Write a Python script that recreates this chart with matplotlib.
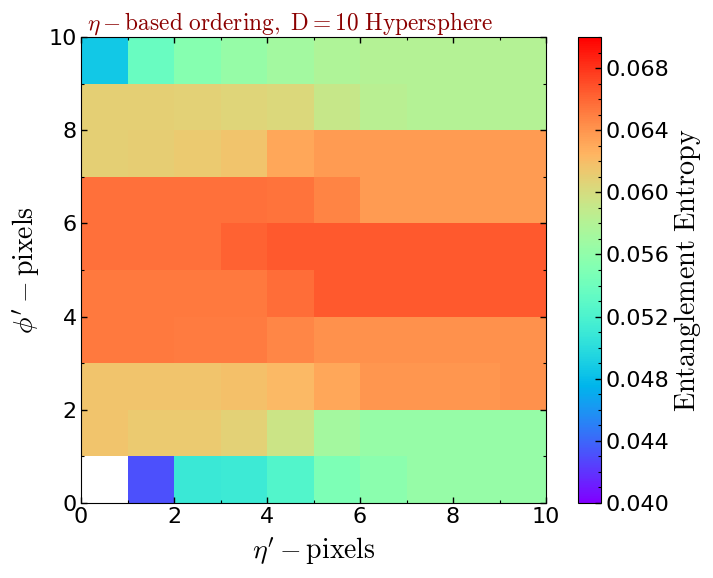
import numpy as np
import matplotlib
matplotlib.use('Agg')
import matplotlib.pyplot as plt

plt.rcParams['mathtext.fontset'] = 'cm'
plt.rcParams['font.family'] = 'DejaVu Sans'

eta_edges = np.arange(0, 11)
phi_edges = np.arange(0, 11)

row0 = [np.nan, .0431, .0510, .0511, .0524, .0548, .0556, .0563, .0563, .0563]
row1 = [.0616, .0613, .0613, .0608, .0594, .0572, .0564, .0563, .0563, .0563]
row2 = [.0616, .0616, .0616, .0618, .0622, .0631, .0640, .0640, .0640, .0642]
row3 = [.0653, .0653, .0651, .0651, .0647, .0642, .0642, .0642, .0642, .0642]
row4 = [.0653, .0653, .0653, .0653, .0657, .0665, .0665, .0665, .0665, .0665]
row5 = [.0656, .0656, .0656, .0662, .0665, .0665, .0665, .0665, .0665, .0665]
row6 = [.0656, .0656, .0656, .0656, .0655, .0648, .0637, .0637, .0637, .0637]
row7 = [.0609, .0610, .0613, .0616, .0631, .0637, .0637, .0637, .0637, .0637]
row8 = [.0609, .0609, .0608, .0606, .0603, .0592, .0583, .0581, .0581, .0581]
row9 = [.0486, .0537, .0554, .0564, .0570, .0577, .0581, .0581, .0581, .0581]
entropy = np.array([row0, row1, row2, row3, row4, row5, row6, row7, row8, row9])

cbar_ticks = [0.040, 0.044, 0.048, 0.052, 0.056, 0.060, 0.064, 0.068]

fig = plt.figure(figsize=(7.13, 5.78), dpi=100)
ax = fig.add_axes([81/713, 1-503/578, 465/713, 466/578])
mesh = ax.pcolormesh(eta_edges, phi_edges, entropy, cmap='rainbow', vmin=0.04, vmax=0.07)
ax.set_xlim(0, 10)
ax.set_ylim(0, 10)
ax.set_xticks([0, 2, 4, 6, 8, 10])
ax.set_yticks([0, 2, 4, 6, 8, 10])
ax.set_xticks(np.arange(0, 10, 1), minor=True)
ax.set_yticks(np.arange(0, 10, 1), minor=True)
ax.tick_params(which='major', direction='in', length=4.5, width=1, top=True, right=True, labelsize=16, pad=3)
ax.tick_params(which='minor', direction='in', length=2.5, width=0.8, top=True, right=True)
ax.set_xlabel(r"$\eta^{\prime}-\mathrm{pixels}$", fontsize=20, labelpad=6.5)
ax.set_ylabel(r"$\phi^{\prime}-\mathrm{pixels}$", fontsize=20, labelpad=4)
ax.set_title(r"$\eta-\mathrm{based\ ordering,\ D=10\ Hypersphere}$", fontsize=16.8, color='darkred', x=6/465, ha='left', pad=4)

cax = fig.add_axes([578/713, 1-503/578, 23/713, 466/578])
cbar = fig.colorbar(mesh, cax=cax)
cbar.set_ticks(cbar_ticks)
cbar.set_ticklabels(['%.3f' % t for t in cbar_ticks])
cax.set_yticks(np.arange(0.04, 0.0701, 0.001), minor=True)
cax.tick_params(which='major', direction='in', length=4.5, width=1, labelsize=16, pad=3, right=True)
cax.tick_params(which='minor', direction='in', length=2.5, width=0.8, right=True)
cbar.set_label(r"$\mathrm{Entanglement\ Entropy}$", fontsize=20.3, labelpad=2)

fig.savefig('out.png', dpi=100)
